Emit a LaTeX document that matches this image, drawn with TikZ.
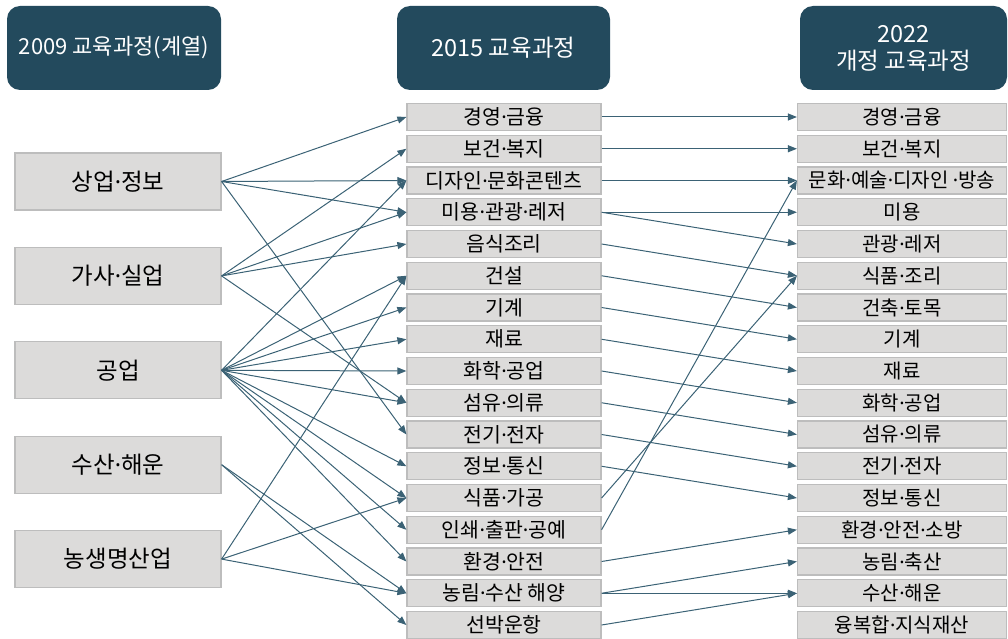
\documentclass[tikz,border=0pt]{standalone}
\usepackage{fontspec}
\setmainfont{Noto Sans CJK KR}
\newfontfamily\dotfont{Noto Sans}
\newcommand\md{{\dotfont ·}}
\usetikzlibrary{arrows.meta}
\definecolor{hdrfill}{HTML}{234A5D}
\definecolor{boxfill}{HTML}{DCDBDA}
\definecolor{boxline}{HTML}{BDBDBD}
\definecolor{conncol}{HTML}{3B6275}
\begin{document}
\begin{tikzpicture}[x=1pt,y=-1pt,
  hdrbox/.style={fill=hdrfill, rounded corners=13pt, text=white, font=\fontsize{23.5}{27}\selectfont, align=center, inner sep=0pt, minimum height=84pt},
  lbox/.style={fill=boxfill, draw=boxline, line width=1.2pt, minimum width=206pt, minimum height=57pt, inner sep=0pt, font=\fontsize{23.5}{27}\selectfont},
  mbox/.style={fill=boxfill, draw=boxline, line width=1.2pt, minimum width=194pt, minimum height=27pt, inner sep=0pt, font=\fontsize{20.5}{22}\selectfont},
  rbox/.style={mbox, minimum width=209pt, font=\fontsize{20}{22}\selectfont},
  link/.style={draw=conncol, line width=1pt, -{Triangle[length=9pt,width=7pt]}}
]
\useasboundingbox (0,0) rectangle (1008,639);
% headers
\node[hdrbox, minimum width=214pt, font=\fontsize{22}{27}\selectfont] (h1) at (114,48) {2009 교육과정(계열)};
\node[hdrbox, minimum width=213pt] (h2) at (503.5,48) {2015 교육과정};
\node[hdrbox, minimum width=207pt] (h3) at (903.5,48) {2022\\개정 교육과정};
% left column
\foreach \t [count=\i] in {상업\md 정보, 가사\md 실업, 공업, 수산\md 해운, 농생명산업}
  \node[lbox] (L\i) at (118, {181.5+94.4*(\i-1)}) {\t};
% middle column
\foreach \t [count=\i] in {경영\md 금융, 보건\md 복지, 디자인\md 문화콘텐츠, 미용\md 관광\md 레저, 음식조리, 건설, 기계, 재료, 화학\md 공업, 섬유\md 의류, 전기\md 전자, 정보\md 통신, 식품\md 가공, 인쇄\md 출판\md 공예, 환경\md 안전, 농림\md 수산 해양, 선박운항}
  \node[mbox] (m\i) at (504, {117+31.75*(\i-1)}) {\t};
% right column
\foreach \t [count=\i] in {경영\md 금융, 보건\md 복지, 문화\md 예술\md 디자인 \md 방송, 미용, 관광\md 레저, 식품\md 조리, 건축\md 토목, 기계, 재료, 화학\md 공업, 섬유\md 의류, 전기\md 전자, 정보\md 통신, 환경\md 안전\md 소방, 농림\md 축산, 수산\md 해운, 융복합\md 지식재산}
  \node[rbox] (r\i) at (902, {117+31.75*(\i-1)}) {\t};
% left -> middle
\foreach \a/\b in {1/1, 1/3, 1/4, 1/11, 2/2, 2/4, 2/5, 2/10, 3/3, 3/6, 3/7, 3/8, 3/9, 3/10, 3/12, 3/13, 3/14, 3/15, 4/16, 4/17, 5/6, 5/13, 5/16}
  \draw[link] (L\a.east) -- (m\b.west);
% middle -> right
\foreach \a/\b in {1/1, 2/2, 3/3, 4/4, 4/5, 5/6, 6/7, 7/8, 8/9, 9/10, 10/11, 11/12, 12/13, 13/6, 14/3, 15/14, 16/15, 16/16, 17/16}
  \draw[link] (m\a.east) -- (r\b.west);
\end{tikzpicture}
\end{document}
